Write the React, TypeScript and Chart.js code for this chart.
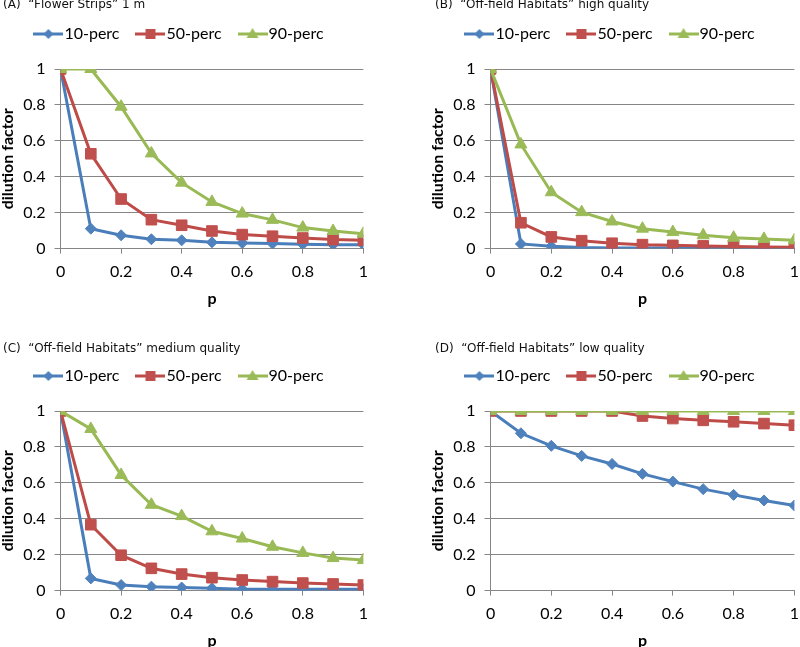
import React, { useEffect, useRef } from 'react';
import { Chart, registerables } from 'chart.js';
Chart.register(...registerables);

const P_VALUES = [0, 0.1, 0.2, 0.3, 0.4, 0.5, 0.6, 0.7, 0.8, 0.9, 1];
const SERIES_LABELS = ['10-perc', '50-perc', '90-perc'];
const X_TITLE = 'p';
const Y_TITLE = 'dilution factor';

const A_TITLE = '(A)  “Flower Strips” 1 m';
const A_P10 = [1, 0.111, 0.074, 0.052, 0.046, 0.035, 0.031, 0.028, 0.024, 0.022, 0.022];
const A_P50 = [1, 0.528, 0.276, 0.161, 0.13, 0.098, 0.078, 0.069, 0.059, 0.05, 0.046];
const A_P90 = [1, 1, 0.79, 0.53, 0.367, 0.26, 0.195, 0.16, 0.117, 0.098, 0.083];

const B_TITLE = '(B)  “Off-field Habitats” high quality';
const B_P10 = [1, 0.026, 0.013, 0.006, 0.004, 0.003, 0.003, 0.003, 0.003, 0.003, 0.003];
const B_P50 = [1, 0.144, 0.065, 0.044, 0.03, 0.022, 0.018, 0.015, 0.011, 0.009, 0.008];
const B_P90 = [1, 0.58, 0.314, 0.203, 0.151, 0.111, 0.092, 0.074, 0.061, 0.054, 0.046];

const C_TITLE = '(C)  “Off-field Habitats” medium quality';
const C_P10 = [1, 0.068, 0.031, 0.022, 0.017, 0.013, 0.008, 0.008, 0.008, 0.008, 0.008];
const C_P50 = [1, 0.367, 0.197, 0.124, 0.092, 0.072, 0.059, 0.05, 0.042, 0.037, 0.031];
const C_P90 = [1, 0.9, 0.644, 0.478, 0.415, 0.33, 0.29, 0.244, 0.21, 0.181, 0.17];

const D_TITLE = '(D)  “Off-field Habitats” low quality';
const D_P10 = [1, 0.876, 0.806, 0.75, 0.705, 0.65, 0.607, 0.565, 0.533, 0.502, 0.474];
const D_P50 = [1, 1, 1, 1, 1, 0.972, 0.958, 0.948, 0.94, 0.93, 0.921];
const D_P90 = [1, 1, 1, 1, 1, 1, 1, 1, 1, 1, 1];

const LINE_COLORS = ['#4A7EBB', '#BE4B48', '#98B954'];
const MARKER_COLORS = ['#4F81BD', '#C0504D', '#9BBB59'];
const MARKER_STYLES = ['rectRot', 'rect', 'triangle'];
const MARKER_RADII = [5.5, 7.5, 7];

function makeIcon(i: number): HTMLCanvasElement {
  const c = document.createElement('canvas');
  c.width = 30;
  c.height = 14;
  const ctx = c.getContext('2d')!;
  ctx.strokeStyle = LINE_COLORS[i];
  ctx.lineWidth = 3;
  ctx.beginPath();
  ctx.moveTo(0, 7);
  ctx.lineTo(30, 7);
  ctx.stroke();
  ctx.fillStyle = MARKER_COLORS[i];
  ctx.beginPath();
  const cx = 15, cy = 7;
  if (i === 0) {
    ctx.moveTo(cx - 5, cy);
    ctx.lineTo(cx, cy - 5);
    ctx.lineTo(cx + 5, cy);
    ctx.lineTo(cx, cy + 5);
  } else if (i === 1) {
    ctx.rect(cx - 5, cy - 5, 10, 10);
  } else {
    ctx.moveTo(cx, cy - 6);
    ctx.lineTo(cx + 6, cy + 4);
    ctx.lineTo(cx - 6, cy + 4);
  }
  ctx.closePath();
  ctx.fill();
  return c;
}

const FONT = { family: 'Lato', size: 16, lineHeight: 1.2 };
const FONT_BOLD = { family: 'Lato', size: 16, lineHeight: 1.2, weight: 'bold' as const };
const AXIS_GRAY = '#868686';
const fmtTick = (v: any) => String(Math.round(Number(v) * 10) / 10);

type PanelProps = {
  series: number[][];
  left: number;
  top: number;
  width: number;
  height: number;
  padRight: number;
};

function Panel({ series, left, top, width, height, padRight }: PanelProps) {
  const ref = useRef<HTMLCanvasElement>(null);
  useEffect(() => {
    if (!ref.current) return;
    const icons = [0, 1, 2].map(makeIcon);
    const chart = new Chart(ref.current, {
      type: 'line',
      data: {
        datasets: series.map((vals, i) => ({
          label: SERIES_LABELS[i],
          data: P_VALUES.map((p, k) => ({ x: p, y: vals[k] })),
          borderColor: LINE_COLORS[i],
          backgroundColor: MARKER_COLORS[i],
          borderWidth: 3,
          pointStyle: MARKER_STYLES[i] as any,
          pointRadius: MARKER_RADII[i],
          pointBackgroundColor: MARKER_COLORS[i],
          pointBorderColor: MARKER_COLORS[i],
          pointBorderWidth: 1,
          tension: 0,
          order: 3 - i,
        })),
      },
      options: {
        responsive: false,
        animation: false,
        layout: { padding: { top: 3, right: padRight, left: 0, bottom: 0 } },
        plugins: {
          tooltip: { enabled: false },
          title: {
            display: true,
            text: ' ',
            font: { family: 'Lato', size: 10, lineHeight: 1 },
            padding: { top: 7, bottom: 0 },
          },
          legend: {
            position: 'top',
            align: 'center',
            weight: 3000,
            labels: {
              usePointStyle: true,
              pointStyleWidth: 16,
              padding: 23,
              color: '#000',
              font: FONT,
              sort: (a: any, b: any) => a.datasetIndex - b.datasetIndex,
              generateLabels: (ch: any) => {
                const items = Chart.defaults.plugins.legend.labels.generateLabels(ch);
                items.forEach((it: any) => {
                  it.pointStyle = icons[it.datasetIndex];
                });
                return items;
              },
            },
          },
        },
        scales: {
          x: {
            type: 'linear',
            min: 0,
            max: 1,
            ticks: { stepSize: 0.2, padding: 9, color: '#000', font: FONT, callback: fmtTick },
            grid: { drawOnChartArea: false, drawTicks: true, tickLength: 5, color: AXIS_GRAY },
            border: { color: AXIS_GRAY },
            title: { display: true, text: X_TITLE, color: '#000', font: FONT_BOLD, padding: { top: -2, bottom: 0 } },
          },
          y: {
            type: 'linear',
            min: 0,
            max: 1,
            ticks: { stepSize: 0.2, padding: 9, color: '#000', font: FONT, callback: fmtTick },
            grid: { color: AXIS_GRAY, tickLength: 6 },
            border: { color: AXIS_GRAY },
            title: { display: true, text: Y_TITLE, color: '#000', font: FONT_BOLD, padding: { top: 0, bottom: -3 } },
          },
        },
      },
    });
    return () => chart.destroy();
  }, []);
  return (
    <canvas
      ref={ref}
      width={width}
      height={height}
      style={{ position: 'absolute', left, top, width, height }}
    />
  );
}

const titleStyle: React.CSSProperties = {
  position: 'absolute',
  fontFamily: '"DejaVu Sans", sans-serif',
  fontSize: 12,
  lineHeight: '14px',
  whiteSpace: 'pre',
  color: '#111',
};

export default function App() {
  return (
    <div
      style={{
        position: 'fixed',
        left: 0,
        top: 0,
        width: 800,
        height: 647,
        overflow: 'hidden',
        background: '#fff',
      }}
    >
      <Panel series={[A_P10, A_P50, A_P90]} left={-2} top={0} width={379} height={308} padRight={11} />
      <Panel series={[B_P10, B_P50, B_P90]} left={428} top={0} width={380} height={308} padRight={10} />
      <Panel series={[C_P10, C_P50, C_P90]} left={-2} top={342} width={379} height={308} padRight={11} />
      <Panel series={[D_P10, D_P50, D_P90]} left={428} top={342} width={380} height={308} padRight={10} />
      <div style={{ ...titleStyle, left: 3, top: -3 }}>{A_TITLE}</div>
      <div style={{ ...titleStyle, left: 435, top: -3 }}>{B_TITLE}</div>
      <div style={{ ...titleStyle, left: 3, top: 341 }}>{C_TITLE}</div>
      <div style={{ ...titleStyle, left: 435, top: 341 }}>{D_TITLE}</div>
    </div>
  );
}
